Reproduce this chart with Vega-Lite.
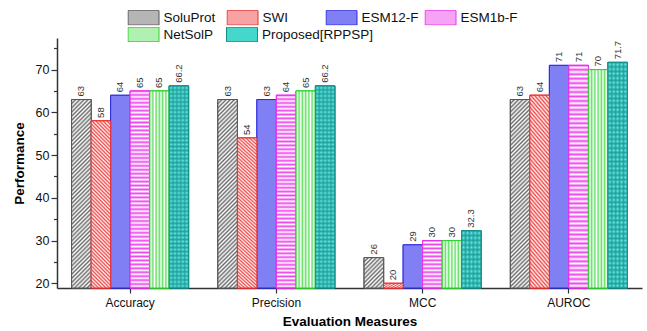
{
  "$schema": "https://vega.github.io/schema/vega-lite/v6.json",
  "width": 585,
  "height": 250,
  "autosize": "none",
  "padding": {"left": 57, "top": 38, "right": 5, "bottom": 43},
  "background": "white",
  "config": {"font": "Liberation Sans", "view": {"stroke": null}},
  "data": {"values": [
    {"measure": "Accuracy", "model": "SoluProt", "value": 63},
    {"measure": "Accuracy", "model": "SWI", "value": 58},
    {"measure": "Accuracy", "model": "ESM12-F", "value": 64},
    {"measure": "Accuracy", "model": "ESM1b-F", "value": 65},
    {"measure": "Accuracy", "model": "NetSolP", "value": 65},
    {"measure": "Accuracy", "model": "Proposed[RPPSP]", "value": 66.2},
    {"measure": "Precision", "model": "SoluProt", "value": 63},
    {"measure": "Precision", "model": "SWI", "value": 54},
    {"measure": "Precision", "model": "ESM12-F", "value": 63},
    {"measure": "Precision", "model": "ESM1b-F", "value": 64},
    {"measure": "Precision", "model": "NetSolP", "value": 65},
    {"measure": "Precision", "model": "Proposed[RPPSP]", "value": 66.2},
    {"measure": "MCC", "model": "SoluProt", "value": 26},
    {"measure": "MCC", "model": "SWI", "value": 20},
    {"measure": "MCC", "model": "ESM12-F", "value": 29},
    {"measure": "MCC", "model": "ESM1b-F", "value": 30},
    {"measure": "MCC", "model": "NetSolP", "value": 30},
    {"measure": "MCC", "model": "Proposed[RPPSP]", "value": 32.3},
    {"measure": "AUROC", "model": "SoluProt", "value": 63},
    {"measure": "AUROC", "model": "SWI", "value": 64},
    {"measure": "AUROC", "model": "ESM12-F", "value": 71},
    {"measure": "AUROC", "model": "ESM1b-F", "value": 71},
    {"measure": "AUROC", "model": "NetSolP", "value": 70},
    {"measure": "AUROC", "model": "Proposed[RPPSP]", "value": 71.7}
  ]},
  "encoding": {
    "x": {"field": "measure", "type": "nominal", "sort": null,
      "scale": {"paddingInner": 0.2, "paddingOuter": 0.1},
      "axis": {"title": "Evaluation Measures", "titleFontSize": 13.5, "titleFontWeight": "bold", "titleColor": "#000", "titlePadding": 6,
        "labelAngle": 0, "labelFontSize": 12, "labelColor": "#111", "labelPadding": 4,
        "tickSize": 5, "tickWidth": 1.2, "tickColor": "#333", "domainColor": "#333", "domainWidth": 1.5, "grid": false}},
    "xOffset": {"field": "model", "type": "nominal", "sort": null,
      "scale": {"domain": ["SoluProt", "SWI", "ESM12-F", "ESM1b-F", "NetSolP", "Proposed[RPPSP]"], "paddingInner": 0, "paddingOuter": 0}},
    "y": {"field": "value", "type": "quantitative", "stack": null,
      "scale": {"domain": [18.9, 77.4], "zero": false, "nice": false}, "axis": null}
  },
  "layer": [
    {
      "mark": {"type": "bar", "strokeWidth": 1},
      "encoding": {
        "fill": {"field": "model", "type": "nominal",
          "scale": {"domain": ["SoluProt", "SWI", "ESM12-F", "ESM1b-F", "NetSolP", "Proposed[RPPSP]"],
            "range": ["#b5b5b5", "#f7a3a3", "#8080f4", "#f6a3f6", "#b0f0b0", "#45d6cc"]},
          "legend": {"title": null, "orient": "none", "legendX": 70.5, "legendY": -11, "direction": "horizontal", "columns": 2, "gridAlign": "each",
            "columnPadding": 12.5, "rowPadding": 2, "values": ["NetSolP", "Proposed[RPPSP]"],
            "symbolType": "M-1,-0.47H1V0.47H-1Z", "symbolSize": 961, "symbolStrokeWidth": 1, "clipHeight": 15,
            "labelFontSize": 13.5, "labelColor": "#111", "labelOffset": 4, "labelLimit": 200, "padding": 0}},
        "stroke": {"field": "model", "type": "nominal",
          "scale": {"domain": ["SoluProt", "SWI", "ESM12-F", "ESM1b-F", "NetSolP", "Proposed[RPPSP]"],
            "range": ["#555555", "#e83030", "#2a2ae0", "#e830e8", "#2fd12f", "#148c8c"]},
          "legend": {"title": null, "orient": "none", "legendX": 70.5, "legendY": -11, "direction": "horizontal", "columns": 2, "gridAlign": "each",
            "columnPadding": 12.5, "rowPadding": 2, "values": ["NetSolP", "Proposed[RPPSP]"],
            "symbolType": "M-1,-0.47H1V0.47H-1Z", "symbolSize": 961, "symbolStrokeWidth": 1, "clipHeight": 15,
            "labelFontSize": 13.5, "labelColor": "#111", "labelOffset": 4, "labelLimit": 200, "padding": 0}}
      }
    },
    {
      "mark": {"type": "bar", "strokeWidth": 1},
      "encoding": {
        "y": {"field": "value", "type": "quantitative", "stack": null,
          "scale": {"domain": [18.9, 77.4], "zero": false, "nice": false},
          "axis": {"values": [20, 30, 40, 50, 60, 70], "title": "Performance", "titleFontSize": 13.5, "titleFontWeight": "bold", "titleColor": "#000", "titlePadding": 9,
            "labelFontSize": 12.5, "labelColor": "#111", "labelPadding": 2,
            "tickSize": 6, "tickWidth": 1.2, "tickColor": "#333", "domainColor": "#333", "domainWidth": 1.5, "grid": false}},
        "fill": {"field": "model", "type": "nominal",
          "scale": {"domain": ["SoluProt", "SWI", "ESM12-F", "ESM1b-F", "NetSolP", "Proposed[RPPSP]"],
            "range": ["#b5b5b5", "#f7a3a3", "#8080f4", "#f6a3f6", "#b0f0b0", "#45d6cc"]},
          "legend": {"title": null, "orient": "none", "legendX": 70.5, "legendY": -27.7, "direction": "horizontal", "columns": 4, "gridAlign": "all",
            "columnPadding": 5, "rowPadding": 2, "values": ["SoluProt", "SWI", "ESM12-F", "ESM1b-F"],
            "symbolType": "M-1,-0.47H1V0.47H-1Z", "symbolSize": 961, "symbolStrokeWidth": 1, "clipHeight": 15,
            "labelFontSize": 13.5, "labelColor": "#111", "labelOffset": 4, "labelLimit": 200, "padding": 0}},
        "stroke": {"field": "model", "type": "nominal",
          "scale": {"domain": ["SoluProt", "SWI", "ESM12-F", "ESM1b-F", "NetSolP", "Proposed[RPPSP]"],
            "range": ["#555555", "#e83030", "#2a2ae0", "#e830e8", "#2fd12f", "#148c8c"]},
          "legend": {"title": null, "orient": "none", "legendX": 70.5, "legendY": -27.7, "direction": "horizontal", "columns": 4, "gridAlign": "all",
            "columnPadding": 5, "rowPadding": 2, "values": ["SoluProt", "SWI", "ESM12-F", "ESM1b-F"],
            "symbolType": "M-1,-0.47H1V0.47H-1Z", "symbolSize": 961, "symbolStrokeWidth": 1, "clipHeight": 15,
            "labelFontSize": 13.5, "labelColor": "#111", "labelOffset": 4, "labelLimit": 200, "padding": 0}}
      }
    },
    {
      "transform": [{"filter": "datum.model === 'SoluProt' && datum.value > 40"}],
      "mark": {"type": "bar", "stroke": "#555555", "strokeWidth": 1,
        "fill": {"gradient": "linear", "x1": 0, "y1": 0, "x2": 0.113, "y2": 1.092, "stops": [{"offset":0,"color":"#6b6b6b"},{"offset":0.01,"color":"#ffffff"},{"offset":0.02,"color":"#6b6b6b"},{"offset":0.03,"color":"#ffffff"},{"offset":0.04,"color":"#6b6b6b"},{"offset":0.05,"color":"#ffffff"},{"offset":0.06,"color":"#6b6b6b"},{"offset":0.07,"color":"#ffffff"},{"offset":0.08,"color":"#6b6b6b"},{"offset":0.09,"color":"#ffffff"},{"offset":0.1,"color":"#6b6b6b"},{"offset":0.11,"color":"#ffffff"},{"offset":0.12,"color":"#6b6b6b"},{"offset":0.13,"color":"#ffffff"},{"offset":0.14,"color":"#6b6b6b"},{"offset":0.15,"color":"#ffffff"},{"offset":0.16,"color":"#6b6b6b"},{"offset":0.17,"color":"#ffffff"},{"offset":0.18,"color":"#6b6b6b"},{"offset":0.19,"color":"#ffffff"},{"offset":0.2,"color":"#6b6b6b"},{"offset":0.21,"color":"#ffffff"},{"offset":0.22,"color":"#6b6b6b"},{"offset":0.23,"color":"#ffffff"},{"offset":0.24,"color":"#6b6b6b"},{"offset":0.25,"color":"#ffffff"},{"offset":0.26,"color":"#6b6b6b"},{"offset":0.27,"color":"#ffffff"},{"offset":0.28,"color":"#6b6b6b"},{"offset":0.29,"color":"#ffffff"},{"offset":0.3,"color":"#6b6b6b"},{"offset":0.31,"color":"#ffffff"},{"offset":0.32,"color":"#6b6b6b"},{"offset":0.33,"color":"#ffffff"},{"offset":0.34,"color":"#6b6b6b"},{"offset":0.35,"color":"#ffffff"},{"offset":0.36,"color":"#6b6b6b"},{"offset":0.37,"color":"#ffffff"},{"offset":0.38,"color":"#6b6b6b"},{"offset":0.39,"color":"#ffffff"},{"offset":0.4,"color":"#6b6b6b"},{"offset":0.41,"color":"#ffffff"},{"offset":0.42,"color":"#6b6b6b"},{"offset":0.43,"color":"#ffffff"},{"offset":0.44,"color":"#6b6b6b"},{"offset":0.45,"color":"#ffffff"},{"offset":0.46,"color":"#6b6b6b"},{"offset":0.47,"color":"#ffffff"},{"offset":0.48,"color":"#6b6b6b"},{"offset":0.49,"color":"#ffffff"},{"offset":0.5,"color":"#6b6b6b"},{"offset":0.51,"color":"#ffffff"},{"offset":0.52,"color":"#6b6b6b"},{"offset":0.53,"color":"#ffffff"},{"offset":0.54,"color":"#6b6b6b"},{"offset":0.55,"color":"#ffffff"},{"offset":0.56,"color":"#6b6b6b"},{"offset":0.57,"color":"#ffffff"},{"offset":0.58,"color":"#6b6b6b"},{"offset":0.59,"color":"#ffffff"},{"offset":0.6,"color":"#6b6b6b"},{"offset":0.61,"color":"#ffffff"},{"offset":0.62,"color":"#6b6b6b"},{"offset":0.63,"color":"#ffffff"},{"offset":0.64,"color":"#6b6b6b"},{"offset":0.65,"color":"#ffffff"},{"offset":0.66,"color":"#6b6b6b"},{"offset":0.67,"color":"#ffffff"},{"offset":0.68,"color":"#6b6b6b"},{"offset":0.69,"color":"#ffffff"},{"offset":0.7,"color":"#6b6b6b"},{"offset":0.71,"color":"#ffffff"},{"offset":0.72,"color":"#6b6b6b"},{"offset":0.73,"color":"#ffffff"},{"offset":0.74,"color":"#6b6b6b"},{"offset":0.75,"color":"#ffffff"},{"offset":0.76,"color":"#6b6b6b"},{"offset":0.77,"color":"#ffffff"},{"offset":0.78,"color":"#6b6b6b"},{"offset":0.79,"color":"#ffffff"},{"offset":0.8,"color":"#6b6b6b"},{"offset":0.81,"color":"#ffffff"},{"offset":0.82,"color":"#6b6b6b"},{"offset":0.83,"color":"#ffffff"},{"offset":0.84,"color":"#6b6b6b"},{"offset":0.85,"color":"#ffffff"},{"offset":0.86,"color":"#6b6b6b"},{"offset":0.87,"color":"#ffffff"},{"offset":0.88,"color":"#6b6b6b"},{"offset":0.89,"color":"#ffffff"},{"offset":0.9,"color":"#6b6b6b"},{"offset":0.91,"color":"#ffffff"},{"offset":0.92,"color":"#6b6b6b"},{"offset":0.93,"color":"#ffffff"},{"offset":0.94,"color":"#6b6b6b"},{"offset":0.95,"color":"#ffffff"},{"offset":0.96,"color":"#6b6b6b"},{"offset":0.97,"color":"#ffffff"},{"offset":0.98,"color":"#6b6b6b"},{"offset":0.99,"color":"#ffffff"},{"offset":1,"color":"#6b6b6b"}]}}
    },
    {
      "transform": [{"filter": "datum.model === 'SoluProt' && datum.value <= 40"}],
      "mark": {"type": "bar", "stroke": "#555555", "strokeWidth": 1,
        "fill": {"gradient": "linear", "x1": 0, "y1": 0, "x2": 0.754, "y2": 1.161, "stops": [{"offset":0,"color":"#6b6b6b"},{"offset":0.0417,"color":"#ffffff"},{"offset":0.0833,"color":"#6b6b6b"},{"offset":0.125,"color":"#ffffff"},{"offset":0.1667,"color":"#6b6b6b"},{"offset":0.2083,"color":"#ffffff"},{"offset":0.25,"color":"#6b6b6b"},{"offset":0.2917,"color":"#ffffff"},{"offset":0.3333,"color":"#6b6b6b"},{"offset":0.375,"color":"#ffffff"},{"offset":0.4167,"color":"#6b6b6b"},{"offset":0.4583,"color":"#ffffff"},{"offset":0.5,"color":"#6b6b6b"},{"offset":0.5417,"color":"#ffffff"},{"offset":0.5833,"color":"#6b6b6b"},{"offset":0.625,"color":"#ffffff"},{"offset":0.6667,"color":"#6b6b6b"},{"offset":0.7083,"color":"#ffffff"},{"offset":0.75,"color":"#6b6b6b"},{"offset":0.7917,"color":"#ffffff"},{"offset":0.8333,"color":"#6b6b6b"},{"offset":0.875,"color":"#ffffff"},{"offset":0.9167,"color":"#6b6b6b"},{"offset":0.9583,"color":"#ffffff"},{"offset":1,"color":"#6b6b6b"}]}}
    },
    {
      "transform": [{"filter": "datum.model === 'SWI'"}],
      "mark": {"type": "bar", "stroke": "#e83030", "strokeWidth": 1,
        "fill": {"gradient": "linear", "x1": 0, "y1": 1, "x2": 0.13, "y2": -0.102, "stops": [{"offset":0,"color":"#ef4a4a"},{"offset":0.01,"color":"#fff2f2"},{"offset":0.02,"color":"#ef4a4a"},{"offset":0.03,"color":"#fff2f2"},{"offset":0.04,"color":"#ef4a4a"},{"offset":0.05,"color":"#fff2f2"},{"offset":0.06,"color":"#ef4a4a"},{"offset":0.07,"color":"#fff2f2"},{"offset":0.08,"color":"#ef4a4a"},{"offset":0.09,"color":"#fff2f2"},{"offset":0.1,"color":"#ef4a4a"},{"offset":0.11,"color":"#fff2f2"},{"offset":0.12,"color":"#ef4a4a"},{"offset":0.13,"color":"#fff2f2"},{"offset":0.14,"color":"#ef4a4a"},{"offset":0.15,"color":"#fff2f2"},{"offset":0.16,"color":"#ef4a4a"},{"offset":0.17,"color":"#fff2f2"},{"offset":0.18,"color":"#ef4a4a"},{"offset":0.19,"color":"#fff2f2"},{"offset":0.2,"color":"#ef4a4a"},{"offset":0.21,"color":"#fff2f2"},{"offset":0.22,"color":"#ef4a4a"},{"offset":0.23,"color":"#fff2f2"},{"offset":0.24,"color":"#ef4a4a"},{"offset":0.25,"color":"#fff2f2"},{"offset":0.26,"color":"#ef4a4a"},{"offset":0.27,"color":"#fff2f2"},{"offset":0.28,"color":"#ef4a4a"},{"offset":0.29,"color":"#fff2f2"},{"offset":0.3,"color":"#ef4a4a"},{"offset":0.31,"color":"#fff2f2"},{"offset":0.32,"color":"#ef4a4a"},{"offset":0.33,"color":"#fff2f2"},{"offset":0.34,"color":"#ef4a4a"},{"offset":0.35,"color":"#fff2f2"},{"offset":0.36,"color":"#ef4a4a"},{"offset":0.37,"color":"#fff2f2"},{"offset":0.38,"color":"#ef4a4a"},{"offset":0.39,"color":"#fff2f2"},{"offset":0.4,"color":"#ef4a4a"},{"offset":0.41,"color":"#fff2f2"},{"offset":0.42,"color":"#ef4a4a"},{"offset":0.43,"color":"#fff2f2"},{"offset":0.44,"color":"#ef4a4a"},{"offset":0.45,"color":"#fff2f2"},{"offset":0.46,"color":"#ef4a4a"},{"offset":0.47,"color":"#fff2f2"},{"offset":0.48,"color":"#ef4a4a"},{"offset":0.49,"color":"#fff2f2"},{"offset":0.5,"color":"#ef4a4a"},{"offset":0.51,"color":"#fff2f2"},{"offset":0.52,"color":"#ef4a4a"},{"offset":0.53,"color":"#fff2f2"},{"offset":0.54,"color":"#ef4a4a"},{"offset":0.55,"color":"#fff2f2"},{"offset":0.56,"color":"#ef4a4a"},{"offset":0.57,"color":"#fff2f2"},{"offset":0.58,"color":"#ef4a4a"},{"offset":0.59,"color":"#fff2f2"},{"offset":0.6,"color":"#ef4a4a"},{"offset":0.61,"color":"#fff2f2"},{"offset":0.62,"color":"#ef4a4a"},{"offset":0.63,"color":"#fff2f2"},{"offset":0.64,"color":"#ef4a4a"},{"offset":0.65,"color":"#fff2f2"},{"offset":0.66,"color":"#ef4a4a"},{"offset":0.67,"color":"#fff2f2"},{"offset":0.68,"color":"#ef4a4a"},{"offset":0.69,"color":"#fff2f2"},{"offset":0.7,"color":"#ef4a4a"},{"offset":0.71,"color":"#fff2f2"},{"offset":0.72,"color":"#ef4a4a"},{"offset":0.73,"color":"#fff2f2"},{"offset":0.74,"color":"#ef4a4a"},{"offset":0.75,"color":"#fff2f2"},{"offset":0.76,"color":"#ef4a4a"},{"offset":0.77,"color":"#fff2f2"},{"offset":0.78,"color":"#ef4a4a"},{"offset":0.79,"color":"#fff2f2"},{"offset":0.8,"color":"#ef4a4a"},{"offset":0.81,"color":"#fff2f2"},{"offset":0.82,"color":"#ef4a4a"},{"offset":0.83,"color":"#fff2f2"},{"offset":0.84,"color":"#ef4a4a"},{"offset":0.85,"color":"#fff2f2"},{"offset":0.86,"color":"#ef4a4a"},{"offset":0.87,"color":"#fff2f2"},{"offset":0.88,"color":"#ef4a4a"},{"offset":0.89,"color":"#fff2f2"},{"offset":0.9,"color":"#ef4a4a"},{"offset":0.91,"color":"#fff2f2"},{"offset":0.92,"color":"#ef4a4a"},{"offset":0.93,"color":"#fff2f2"},{"offset":0.94,"color":"#ef4a4a"},{"offset":0.95,"color":"#fff2f2"},{"offset":0.96,"color":"#ef4a4a"},{"offset":0.97,"color":"#fff2f2"},{"offset":0.98,"color":"#ef4a4a"},{"offset":0.99,"color":"#fff2f2"},{"offset":1,"color":"#ef4a4a"}]}}
    },
    {
      "transform": [{"filter": "datum.model === 'ESM1b-F' && datum.value > 40"}],
      "mark": {"type": "bar", "stroke": "#e830e8", "strokeWidth": 1,
        "fill": {"gradient": "linear", "x1": 0, "y1": 0, "x2": 0, "y2": 1, "stops": [{"offset":0,"color":"#ee48ee"},{"offset":0.01,"color":"#ffffff"},{"offset":0.02,"color":"#ee48ee"},{"offset":0.03,"color":"#ffffff"},{"offset":0.04,"color":"#ee48ee"},{"offset":0.05,"color":"#ffffff"},{"offset":0.06,"color":"#ee48ee"},{"offset":0.07,"color":"#ffffff"},{"offset":0.08,"color":"#ee48ee"},{"offset":0.09,"color":"#ffffff"},{"offset":0.1,"color":"#ee48ee"},{"offset":0.11,"color":"#ffffff"},{"offset":0.12,"color":"#ee48ee"},{"offset":0.13,"color":"#ffffff"},{"offset":0.14,"color":"#ee48ee"},{"offset":0.15,"color":"#ffffff"},{"offset":0.16,"color":"#ee48ee"},{"offset":0.17,"color":"#ffffff"},{"offset":0.18,"color":"#ee48ee"},{"offset":0.19,"color":"#ffffff"},{"offset":0.2,"color":"#ee48ee"},{"offset":0.21,"color":"#ffffff"},{"offset":0.22,"color":"#ee48ee"},{"offset":0.23,"color":"#ffffff"},{"offset":0.24,"color":"#ee48ee"},{"offset":0.25,"color":"#ffffff"},{"offset":0.26,"color":"#ee48ee"},{"offset":0.27,"color":"#ffffff"},{"offset":0.28,"color":"#ee48ee"},{"offset":0.29,"color":"#ffffff"},{"offset":0.3,"color":"#ee48ee"},{"offset":0.31,"color":"#ffffff"},{"offset":0.32,"color":"#ee48ee"},{"offset":0.33,"color":"#ffffff"},{"offset":0.34,"color":"#ee48ee"},{"offset":0.35,"color":"#ffffff"},{"offset":0.36,"color":"#ee48ee"},{"offset":0.37,"color":"#ffffff"},{"offset":0.38,"color":"#ee48ee"},{"offset":0.39,"color":"#ffffff"},{"offset":0.4,"color":"#ee48ee"},{"offset":0.41,"color":"#ffffff"},{"offset":0.42,"color":"#ee48ee"},{"offset":0.43,"color":"#ffffff"},{"offset":0.44,"color":"#ee48ee"},{"offset":0.45,"color":"#ffffff"},{"offset":0.46,"color":"#ee48ee"},{"offset":0.47,"color":"#ffffff"},{"offset":0.48,"color":"#ee48ee"},{"offset":0.49,"color":"#ffffff"},{"offset":0.5,"color":"#ee48ee"},{"offset":0.51,"color":"#ffffff"},{"offset":0.52,"color":"#ee48ee"},{"offset":0.53,"color":"#ffffff"},{"offset":0.54,"color":"#ee48ee"},{"offset":0.55,"color":"#ffffff"},{"offset":0.56,"color":"#ee48ee"},{"offset":0.57,"color":"#ffffff"},{"offset":0.58,"color":"#ee48ee"},{"offset":0.59,"color":"#ffffff"},{"offset":0.6,"color":"#ee48ee"},{"offset":0.61,"color":"#ffffff"},{"offset":0.62,"color":"#ee48ee"},{"offset":0.63,"color":"#ffffff"},{"offset":0.64,"color":"#ee48ee"},{"offset":0.65,"color":"#ffffff"},{"offset":0.66,"color":"#ee48ee"},{"offset":0.67,"color":"#ffffff"},{"offset":0.68,"color":"#ee48ee"},{"offset":0.69,"color":"#ffffff"},{"offset":0.7,"color":"#ee48ee"},{"offset":0.71,"color":"#ffffff"},{"offset":0.72,"color":"#ee48ee"},{"offset":0.73,"color":"#ffffff"},{"offset":0.74,"color":"#ee48ee"},{"offset":0.75,"color":"#ffffff"},{"offset":0.76,"color":"#ee48ee"},{"offset":0.77,"color":"#ffffff"},{"offset":0.78,"color":"#ee48ee"},{"offset":0.79,"color":"#ffffff"},{"offset":0.8,"color":"#ee48ee"},{"offset":0.81,"color":"#ffffff"},{"offset":0.82,"color":"#ee48ee"},{"offset":0.83,"color":"#ffffff"},{"offset":0.84,"color":"#ee48ee"},{"offset":0.85,"color":"#ffffff"},{"offset":0.86,"color":"#ee48ee"},{"offset":0.87,"color":"#ffffff"},{"offset":0.88,"color":"#ee48ee"},{"offset":0.89,"color":"#ffffff"},{"offset":0.9,"color":"#ee48ee"},{"offset":0.91,"color":"#ffffff"},{"offset":0.92,"color":"#ee48ee"},{"offset":0.93,"color":"#ffffff"},{"offset":0.94,"color":"#ee48ee"},{"offset":0.95,"color":"#ffffff"},{"offset":0.96,"color":"#ee48ee"},{"offset":0.97,"color":"#ffffff"},{"offset":0.98,"color":"#ee48ee"},{"offset":0.99,"color":"#ffffff"},{"offset":1,"color":"#ee48ee"}]}}
    },
    {
      "transform": [{"filter": "datum.model === 'ESM1b-F' && datum.value <= 40"}],
      "mark": {"type": "bar", "stroke": "#e830e8", "strokeWidth": 1,
        "fill": {"gradient": "linear", "x1": 0, "y1": 0, "x2": 0, "y2": 1, "stops": [{"offset":0,"color":"#ee48ee"},{"offset":0.0417,"color":"#ffffff"},{"offset":0.0833,"color":"#ee48ee"},{"offset":0.125,"color":"#ffffff"},{"offset":0.1667,"color":"#ee48ee"},{"offset":0.2083,"color":"#ffffff"},{"offset":0.25,"color":"#ee48ee"},{"offset":0.2917,"color":"#ffffff"},{"offset":0.3333,"color":"#ee48ee"},{"offset":0.375,"color":"#ffffff"},{"offset":0.4167,"color":"#ee48ee"},{"offset":0.4583,"color":"#ffffff"},{"offset":0.5,"color":"#ee48ee"},{"offset":0.5417,"color":"#ffffff"},{"offset":0.5833,"color":"#ee48ee"},{"offset":0.625,"color":"#ffffff"},{"offset":0.6667,"color":"#ee48ee"},{"offset":0.7083,"color":"#ffffff"},{"offset":0.75,"color":"#ee48ee"},{"offset":0.7917,"color":"#ffffff"},{"offset":0.8333,"color":"#ee48ee"},{"offset":0.875,"color":"#ffffff"},{"offset":0.9167,"color":"#ee48ee"},{"offset":0.9583,"color":"#ffffff"},{"offset":1,"color":"#ee48ee"}]}}
    },
    {
      "transform": [{"filter": "datum.model === 'NetSolP'"}],
      "mark": {"type": "bar", "stroke": "#2fd12f", "strokeWidth": 1,
        "fill": {"gradient": "linear", "x1": 0, "y1": 0, "x2": 1, "y2": 0, "stops": [{"offset":0,"color":"#62e262"},{"offset":0.0833,"color":"#ffffff"},{"offset":0.1667,"color":"#62e262"},{"offset":0.25,"color":"#ffffff"},{"offset":0.3333,"color":"#62e262"},{"offset":0.4167,"color":"#ffffff"},{"offset":0.5,"color":"#62e262"},{"offset":0.5833,"color":"#ffffff"},{"offset":0.6667,"color":"#62e262"},{"offset":0.75,"color":"#ffffff"},{"offset":0.8333,"color":"#62e262"},{"offset":0.9167,"color":"#ffffff"},{"offset":1,"color":"#62e262"}]}}
    },
    {
      "transform": [{"filter": "datum.model === 'Proposed[RPPSP]' && datum.value > 40"}],
      "mark": {"type": "bar", "stroke": "#148c8c", "strokeWidth": 1,
        "fill": {"gradient": "linear", "x1": 0, "y1": 0, "x2": 0, "y2": 1, "stops": [{"offset":0,"color":"#2aaaa6"},{"offset":0.01,"color":"#62f0e4"},{"offset":0.02,"color":"#2aaaa6"},{"offset":0.03,"color":"#62f0e4"},{"offset":0.04,"color":"#2aaaa6"},{"offset":0.05,"color":"#62f0e4"},{"offset":0.06,"color":"#2aaaa6"},{"offset":0.07,"color":"#62f0e4"},{"offset":0.08,"color":"#2aaaa6"},{"offset":0.09,"color":"#62f0e4"},{"offset":0.1,"color":"#2aaaa6"},{"offset":0.11,"color":"#62f0e4"},{"offset":0.12,"color":"#2aaaa6"},{"offset":0.13,"color":"#62f0e4"},{"offset":0.14,"color":"#2aaaa6"},{"offset":0.15,"color":"#62f0e4"},{"offset":0.16,"color":"#2aaaa6"},{"offset":0.17,"color":"#62f0e4"},{"offset":0.18,"color":"#2aaaa6"},{"offset":0.19,"color":"#62f0e4"},{"offset":0.2,"color":"#2aaaa6"},{"offset":0.21,"color":"#62f0e4"},{"offset":0.22,"color":"#2aaaa6"},{"offset":0.23,"color":"#62f0e4"},{"offset":0.24,"color":"#2aaaa6"},{"offset":0.25,"color":"#62f0e4"},{"offset":0.26,"color":"#2aaaa6"},{"offset":0.27,"color":"#62f0e4"},{"offset":0.28,"color":"#2aaaa6"},{"offset":0.29,"color":"#62f0e4"},{"offset":0.3,"color":"#2aaaa6"},{"offset":0.31,"color":"#62f0e4"},{"offset":0.32,"color":"#2aaaa6"},{"offset":0.33,"color":"#62f0e4"},{"offset":0.34,"color":"#2aaaa6"},{"offset":0.35,"color":"#62f0e4"},{"offset":0.36,"color":"#2aaaa6"},{"offset":0.37,"color":"#62f0e4"},{"offset":0.38,"color":"#2aaaa6"},{"offset":0.39,"color":"#62f0e4"},{"offset":0.4,"color":"#2aaaa6"},{"offset":0.41,"color":"#62f0e4"},{"offset":0.42,"color":"#2aaaa6"},{"offset":0.43,"color":"#62f0e4"},{"offset":0.44,"color":"#2aaaa6"},{"offset":0.45,"color":"#62f0e4"},{"offset":0.46,"color":"#2aaaa6"},{"offset":0.47,"color":"#62f0e4"},{"offset":0.48,"color":"#2aaaa6"},{"offset":0.49,"color":"#62f0e4"},{"offset":0.5,"color":"#2aaaa6"},{"offset":0.51,"color":"#62f0e4"},{"offset":0.52,"color":"#2aaaa6"},{"offset":0.53,"color":"#62f0e4"},{"offset":0.54,"color":"#2aaaa6"},{"offset":0.55,"color":"#62f0e4"},{"offset":0.56,"color":"#2aaaa6"},{"offset":0.57,"color":"#62f0e4"},{"offset":0.58,"color":"#2aaaa6"},{"offset":0.59,"color":"#62f0e4"},{"offset":0.6,"color":"#2aaaa6"},{"offset":0.61,"color":"#62f0e4"},{"offset":0.62,"color":"#2aaaa6"},{"offset":0.63,"color":"#62f0e4"},{"offset":0.64,"color":"#2aaaa6"},{"offset":0.65,"color":"#62f0e4"},{"offset":0.66,"color":"#2aaaa6"},{"offset":0.67,"color":"#62f0e4"},{"offset":0.68,"color":"#2aaaa6"},{"offset":0.69,"color":"#62f0e4"},{"offset":0.7,"color":"#2aaaa6"},{"offset":0.71,"color":"#62f0e4"},{"offset":0.72,"color":"#2aaaa6"},{"offset":0.73,"color":"#62f0e4"},{"offset":0.74,"color":"#2aaaa6"},{"offset":0.75,"color":"#62f0e4"},{"offset":0.76,"color":"#2aaaa6"},{"offset":0.77,"color":"#62f0e4"},{"offset":0.78,"color":"#2aaaa6"},{"offset":0.79,"color":"#62f0e4"},{"offset":0.8,"color":"#2aaaa6"},{"offset":0.81,"color":"#62f0e4"},{"offset":0.82,"color":"#2aaaa6"},{"offset":0.83,"color":"#62f0e4"},{"offset":0.84,"color":"#2aaaa6"},{"offset":0.85,"color":"#62f0e4"},{"offset":0.86,"color":"#2aaaa6"},{"offset":0.87,"color":"#62f0e4"},{"offset":0.88,"color":"#2aaaa6"},{"offset":0.89,"color":"#62f0e4"},{"offset":0.9,"color":"#2aaaa6"},{"offset":0.91,"color":"#62f0e4"},{"offset":0.92,"color":"#2aaaa6"},{"offset":0.93,"color":"#62f0e4"},{"offset":0.94,"color":"#2aaaa6"},{"offset":0.95,"color":"#62f0e4"},{"offset":0.96,"color":"#2aaaa6"},{"offset":0.97,"color":"#62f0e4"},{"offset":0.98,"color":"#2aaaa6"},{"offset":0.99,"color":"#62f0e4"},{"offset":1,"color":"#2aaaa6"}]}}
    },
    {
      "transform": [{"filter": "datum.model === 'Proposed[RPPSP]' && datum.value <= 40"}],
      "mark": {"type": "bar", "stroke": "#148c8c", "strokeWidth": 1,
        "fill": {"gradient": "linear", "x1": 0, "y1": 0, "x2": 0, "y2": 1, "stops": [{"offset":0,"color":"#2aaaa6"},{"offset":0.0417,"color":"#62f0e4"},{"offset":0.0833,"color":"#2aaaa6"},{"offset":0.125,"color":"#62f0e4"},{"offset":0.1667,"color":"#2aaaa6"},{"offset":0.2083,"color":"#62f0e4"},{"offset":0.25,"color":"#2aaaa6"},{"offset":0.2917,"color":"#62f0e4"},{"offset":0.3333,"color":"#2aaaa6"},{"offset":0.375,"color":"#62f0e4"},{"offset":0.4167,"color":"#2aaaa6"},{"offset":0.4583,"color":"#62f0e4"},{"offset":0.5,"color":"#2aaaa6"},{"offset":0.5417,"color":"#62f0e4"},{"offset":0.5833,"color":"#2aaaa6"},{"offset":0.625,"color":"#62f0e4"},{"offset":0.6667,"color":"#2aaaa6"},{"offset":0.7083,"color":"#62f0e4"},{"offset":0.75,"color":"#2aaaa6"},{"offset":0.7917,"color":"#62f0e4"},{"offset":0.8333,"color":"#2aaaa6"},{"offset":0.875,"color":"#62f0e4"},{"offset":0.9167,"color":"#2aaaa6"},{"offset":0.9583,"color":"#62f0e4"},{"offset":1,"color":"#2aaaa6"}]}}
    },
    {
      "transform": [{"filter": "datum.model === 'Proposed[RPPSP]'"}],
      "mark": {"type": "bar", "strokeWidth": 0,
        "fill": {"gradient": "linear", "x1": 0, "y1": 0, "x2": 1, "y2": 0, "stops": [{"offset":0,"color":"rgba(29,150,150,0.75)"},{"offset":0.1,"color":"rgba(29,150,150,0)"},{"offset":0.2,"color":"rgba(29,150,150,0.75)"},{"offset":0.3,"color":"rgba(29,150,150,0)"},{"offset":0.4,"color":"rgba(29,150,150,0.75)"},{"offset":0.5,"color":"rgba(29,150,150,0)"},{"offset":0.6,"color":"rgba(29,150,150,0.75)"},{"offset":0.7,"color":"rgba(29,150,150,0)"},{"offset":0.8,"color":"rgba(29,150,150,0.75)"},{"offset":0.9,"color":"rgba(29,150,150,0)"},{"offset":1,"color":"rgba(29,150,150,0.75)"}]}}
    },
    {
      "mark": {"type": "text", "angle": 270, "align": "left", "baseline": "middle", "dx": 3, "fontSize": 9.5, "fill": "#333"},
      "encoding": {
        "y": {"field": "value", "type": "quantitative", "stack": null, "scale": {"domain": [18.9, 77.4], "zero": false, "nice": false},
          "axis": {"orient": "left", "values": [25, 35, 45, 55, 65, 75], "labels": false, "title": null, "domain": false, "grid": false,
            "tickSize": 3.5, "tickWidth": 1.2, "tickColor": "#333"}},
        "text": {"field": "value", "type": "quantitative"}
      }
    }
  ],
  "resolve": {"scale": {"y": "shared", "x": "shared", "fill": "shared", "stroke": "shared"}, "axis": {"x": "shared", "y": "independent"}, "legend": {"fill": "independent", "stroke": "independent"}}
}
